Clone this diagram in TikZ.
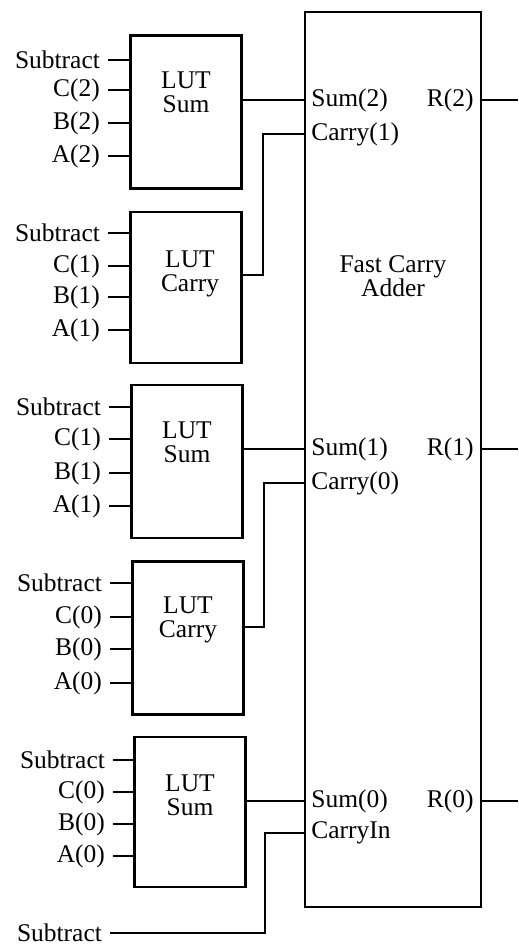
\documentclass[tikz,border=0pt]{standalone}
\usepackage{fontspec}
\setmainfont{Liberation Serif}
\newcommand{\dfont}{\fontsize{14.5}{13.5}\selectfont}
\begin{document}
\begin{tikzpicture}[x=0.02cm,y=-0.02cm, line width=1.6pt, font=\dfont,
  lut/.style={draw, minimum width=2.22cm, minimum height=3.06cm, inner sep=0},
  lbl/.style={inner sep=0, align=center},
  inlbl/.style={anchor=east, inner ysep=0, inner xsep=4.6pt, outer sep=0},
  portl/.style={anchor=west, inner sep=0},
  portr/.style={anchor=east, inner sep=0},
  wire/.style={line width=1.6pt}
]
\useasboundingbox (0,0) rectangle (518,946);

% Fast carry adder
\node[draw, minimum width=3.52cm, minimum height=17.9cm, inner sep=0] (adder) at (393,459.5) {};
\node[lbl] (fca) at (393,276) {Fast Carry\\Adder};

% LUT boxes
\node[lut] (l1) at (186,112) {};
\node[lut, minimum height=3.02cm] (l2) at (186,287.5) {};
\node[lut] (l3) at (187,461.5) {};
\node[lut] (l4) at (188,638) {};
\node[lut, minimum height=3.0cm] (l5) at (190,812) {};

\node[lbl] (t1) at (186,92) {LUT\\Sum};
\node[lbl] (t2) at (190,274) {LUT\\Carry};
\node[lbl] (t3) at (187,442) {LUT\\Sum};
\node[lbl] (t4) at (188,620) {LUT\\Carry};
\node[lbl] (t5) at (190,795) {LUT\\Sum};

% input labels and wires
\foreach \b/\L/\ya/\yb/\yc/\yd/\n in {l1/130/60/90/123/156/2, l2/130/233/266/297/330/1, l3/131/407/439/473/506/1, l4/132/583/617/649/683/0, l5/135/760/792/824/856/0}{
  \node[inlbl] (\b s) at (\L-22,\ya) {Subtract};
  \node[inlbl] (\b c) at (\L-22,\yb) {C(\n)};
  \node[inlbl] (\b bb) at (\L-22,\yc) {B(\n)};
  \node[inlbl] (\b a) at (\L-22,\yd) {A(\n)};
  \draw[wire] (\b s.east) -- (\b.west |- \b s.east);
  \draw[wire] (\b c.east) -- (\b.west |- \b c.east);
  \draw[wire] (\b bb.east) -- (\b.west |- \b bb.east);
  \draw[wire] (\b a.east) -- (\b.west |- \b a.east);
}

% port labels inside adder
\node[portl] (s2) at (310,100) {Sum(2)};
\node[portl] (c1) at (310,134) {Carry(1)};
\node[portr] (r2) at (475,100) {R(2)};
\node[portl] (s1) at (310,449) {Sum(1)};
\node[portl] (c0) at (310,483) {Carry(0)};
\node[portr] (r1) at (475,449) {R(1)};
\node[portl] (s0) at (310,801) {Sum(0)};
\node[portl] (cin) at (310,833) {CarryIn};
\node[portr] (r0) at (475,801) {R(0)};

% outputs
\coordinate (o2) at (518,100);
\coordinate (o1) at (518,449);
\coordinate (o0) at (518,801);
\draw[wire] (adder.east |- o2) -- (o2);
\draw[wire] (adder.east |- o1) -- (o1);
\draw[wire] (adder.east |- o0) -- (o0);

% sum connections
\draw[wire] (l1.east |- s2) -- (adder.west |- s2);
\draw[wire] (l3.east |- s1) -- (adder.west |- s1);
\draw[wire] (l5.east |- s0) -- (adder.west |- s0);

% carry connections
\draw[wire] (adder.west |- c1) -| (263,275) -- (l2.east |- 0,275);
\draw[wire] (adder.west |- c0) -| (264,627) -- (l4.east |- 0,627);

% carry in
\node[inlbl] (sb) at (110,933) {Subtract};
\draw[wire] (adder.west |- cin) -| (265,933) -- (sb.east);
\end{tikzpicture}
\end{document}
